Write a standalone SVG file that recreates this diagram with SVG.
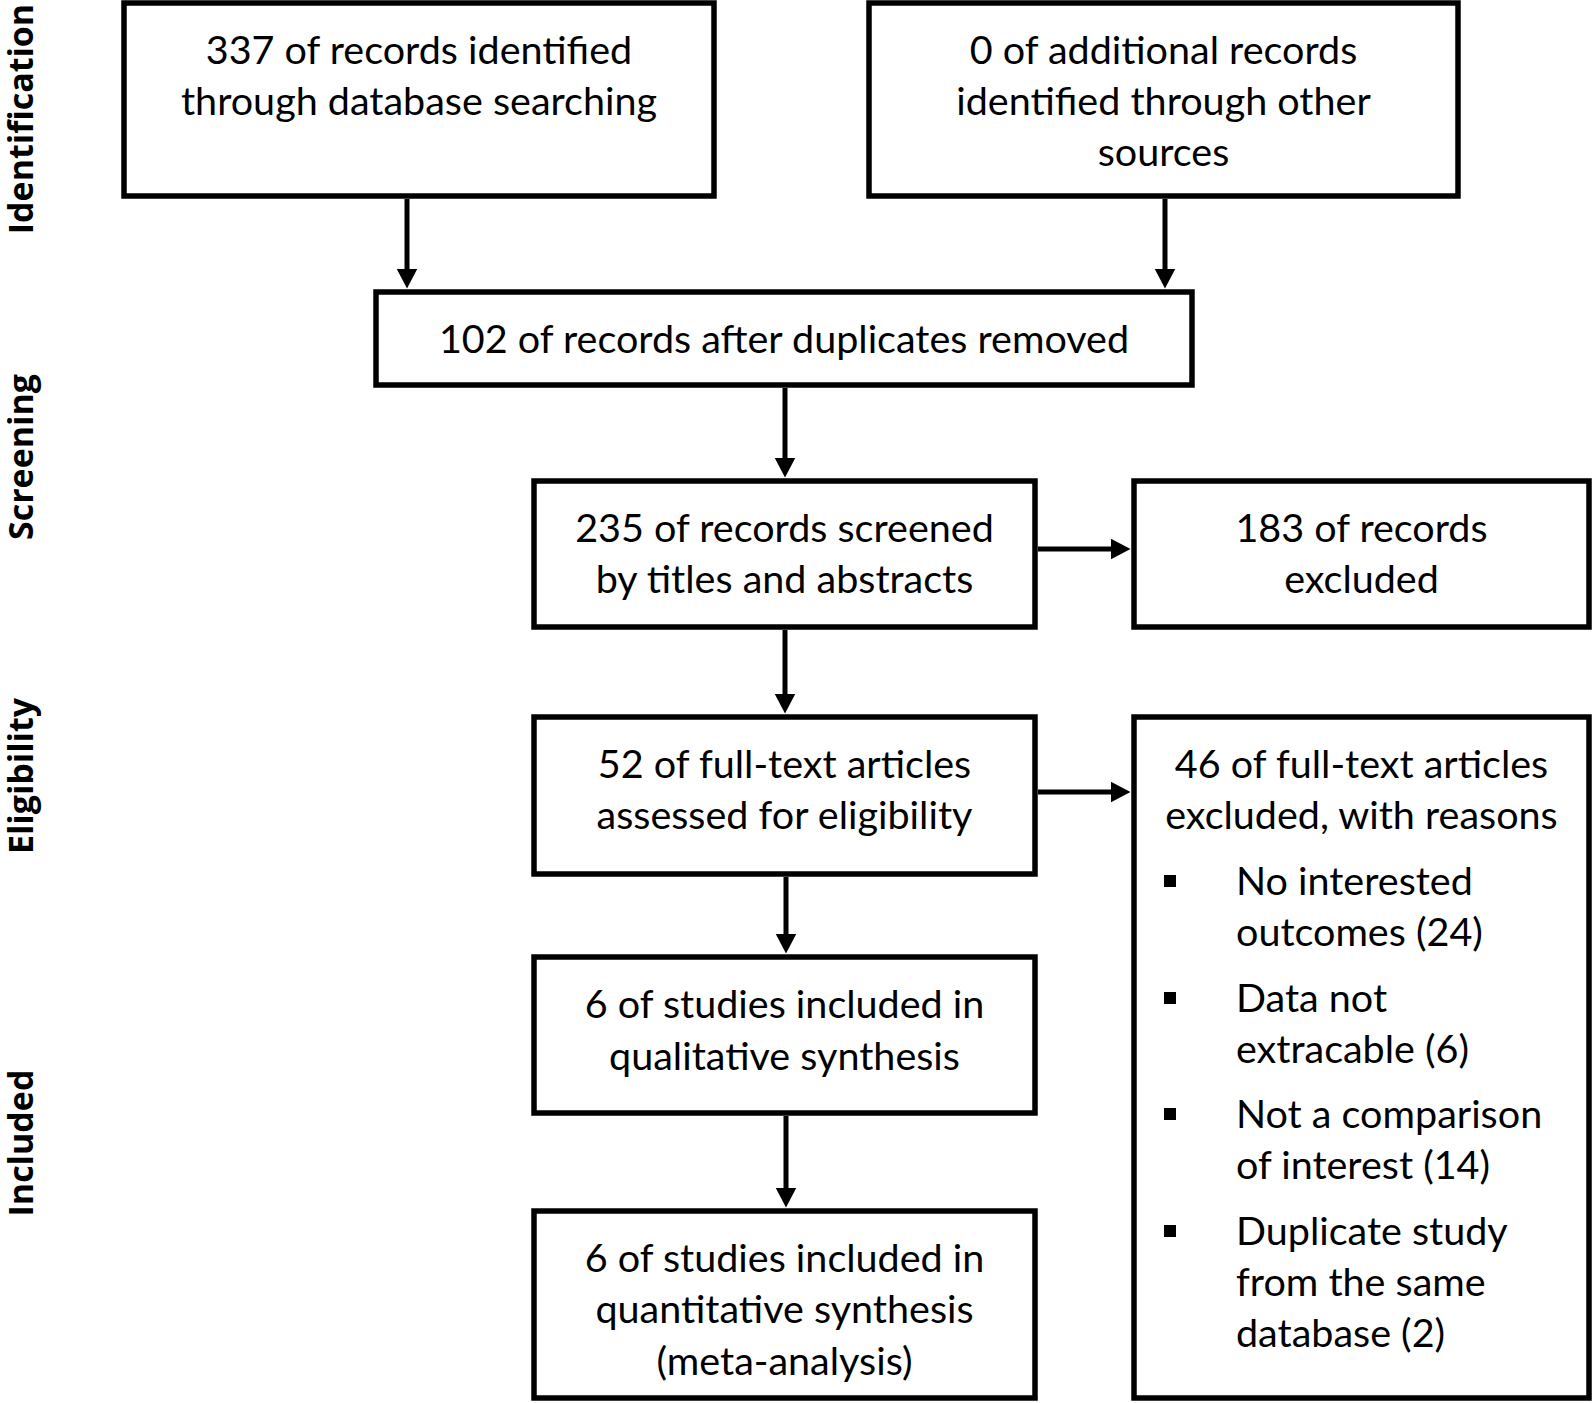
<svg xmlns="http://www.w3.org/2000/svg" width="1594" height="1403" viewBox="0 0 1594 1403">
<defs>
<style>
.box{fill:#fff;stroke:#000;stroke-width:5.5}
.t{font-family:Lato,"Open Sans","Liberation Sans",sans-serif;font-size:39.5px;fill:#000;text-anchor:middle}
.tl{font-family:Lato,"Open Sans","Liberation Sans",sans-serif;font-size:39.5px;fill:#000}
.lab{font-family:"Open Sans","Liberation Sans",sans-serif;font-weight:bold;font-size:34px;fill:#000;text-anchor:middle}
.ar{stroke:#000;stroke-width:5;fill:none;marker-end:url(#ah)}
</style>
<marker id="ah" markerUnits="userSpaceOnUse" markerWidth="21" markerHeight="22" refX="0.5" refY="10.5" orient="auto">
<path d="M0,0 L20,10.5 L0,21 z" fill="#000"/>
</marker>
</defs>
<rect width="1594" height="1403" fill="#fff"/>
<g id="labels">
<text class="lab" transform="translate(33,119) rotate(-90)">Identification</text>
<text class="lab" transform="translate(33,457) rotate(-90)">Screening</text>
<text class="lab" transform="translate(33,776) rotate(-90)">Eligibility</text>
<text class="lab" transform="translate(33,1143) rotate(-90)">Included</text>
</g>
<g id="connectors">
<line class="ar" x1="407" y1="199" x2="407" y2="269"/>
<line class="ar" x1="1165" y1="199" x2="1165" y2="269"/>
<line class="ar" x1="785" y1="388" x2="785" y2="458"/>
<line class="ar" x1="785" y1="630" x2="785" y2="694"/>
<line class="ar" x1="786" y1="877" x2="786" y2="934"/>
<line class="ar" x1="786" y1="1116" x2="786" y2="1188"/>
<line class="ar" x1="1038" y1="549" x2="1111" y2="549"/>
<line class="ar" x1="1038" y1="792" x2="1111" y2="792"/>
</g>
<g id="n1">
<rect class="box" x="124" y="3" width="590" height="193"/>
<text class="t" x="419" y="64">337 of records identified</text>
<text class="t" x="419" y="115">through database searching</text>
</g>
<g id="n2">
<rect class="box" x="869" y="3" width="589" height="193"/>
<text class="t" x="1163.5" y="64">0 of additional records</text>
<text class="t" x="1163.5" y="115">identified through other</text>
<text class="t" x="1163.5" y="166">sources</text>
</g>
<g id="n3">
<rect class="box" x="376" y="292" width="816" height="93"/>
<text class="t" x="784" y="353">102 of records after duplicates removed</text>
</g>
<g id="n4">
<rect class="box" x="534" y="481" width="501" height="146"/>
<text class="t" x="784.5" y="542">235 of records screened</text>
<text class="t" x="784.5" y="593">by titles and abstracts</text>
</g>
<g id="n5">
<rect class="box" x="1134" y="481" width="455" height="146"/>
<text class="t" x="1361.5" y="542">183 of records</text>
<text class="t" x="1361.5" y="593">excluded</text>
</g>
<g id="n6">
<rect class="box" x="534" y="717" width="501" height="157"/>
<text class="t" x="784.5" y="778">52 of full-text articles</text>
<text class="t" x="784.5" y="829">assessed for eligibility</text>
</g>
<g id="n7">
<rect class="box" x="1134" y="717" width="455" height="681"/>
<text class="t" x="1361.5" y="778">46 of full-text articles</text>
<text class="t" x="1361.5" y="829">excluded, with reasons</text>
<rect x="1164" y="875" width="12" height="12" fill="#000"/>
<text class="tl" x="1236" y="895">No interested</text>
<text class="tl" x="1236" y="946">outcomes (24)</text>
<rect x="1164" y="992" width="12" height="12" fill="#000"/>
<text class="tl" x="1236" y="1012">Data not</text>
<text class="tl" x="1236" y="1063">extracable (6)</text>
<rect x="1164" y="1108" width="12" height="12" fill="#000"/>
<text class="tl" x="1236" y="1128">Not a comparison</text>
<text class="tl" x="1236" y="1179">of interest (14)</text>
<rect x="1164" y="1225" width="12" height="12" fill="#000"/>
<text class="tl" x="1236" y="1245">Duplicate study</text>
<text class="tl" x="1236" y="1296">from the same</text>
<text class="tl" x="1236" y="1347">database (2)</text>
</g>
<g id="n8">
<rect class="box" x="534" y="957" width="501" height="156"/>
<text class="t" x="784.5" y="1018">6 of studies included in</text>
<text class="t" x="784.5" y="1070">qualitative synthesis</text>
</g>
<g id="n9">
<rect class="box" x="534" y="1211" width="501" height="187"/>
<text class="t" x="784.5" y="1272">6 of studies included in</text>
<text class="t" x="784.5" y="1323">quantitative synthesis</text>
<text class="t" x="784.5" y="1375">(meta-analysis)</text>
</g>
</svg>
